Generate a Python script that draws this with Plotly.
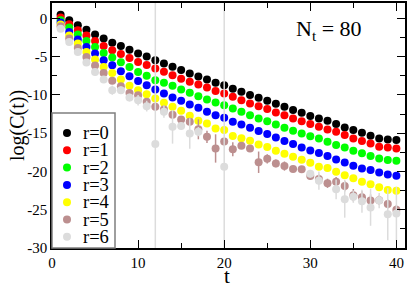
import plotly.graph_objects as go

t = list(range(1, 41))

r0 = [0.45, -0.26, -0.91, -1.5, -2.1, -2.65, -3.2, -3.62, -4.1, -4.6,
      -5.0, -5.47, -5.9, -6.33, -6.75, -7.2, -7.6, -8.0, -8.4, -8.74,
      -9.2, -9.6, -10.0, -10.39, -10.78, -11.17, -11.56, -11.96, -12.35, -12.76,
      -13.1, -13.39, -13.82, -14.25, -14.6, -14.95, -15.34, -15.69, -15.82, -15.9]
r1 = [0.1, -0.78, -1.56, -2.26, -2.96, -3.61, -4.17, -4.65, -5.18, -5.72,
      -6.1, -6.55, -6.98, -7.45, -7.9, -8.3, -8.65, -9.04, -9.5, -9.82,
      -10.26, -10.7, -11.13, -11.47, -11.86, -12.3, -12.65, -13.08, -13.43, -13.82,
      -14.17, -14.51, -14.82, -15.25, -15.69, -16.03, -16.34, -16.77, -16.86, -16.99]
r2 = [-0.26, -1.2, -2.13, -2.96, -3.74, -4.52, -5.12, -5.75, -6.35, -7.0,
      -7.5, -8.08, -8.43, -8.82, -9.3, -9.73, -10.17, -10.6, -11.0, -11.34,
      -11.77, -12.2, -12.65, -13.08, -13.43, -13.86, -14.3, -14.69, -15.04, -15.42,
      -15.69, -16.12, -16.56, -16.86, -17.3, -17.64, -17.99, -18.3, -18.51, -18.6]
r3 = [-0.56, -1.78, -2.78, -3.74, -4.6, -5.48, -6.13, -6.9, -7.56, -8.2,
      -8.74, -9.3, -9.82, -10.35, -10.78, -11.25, -11.69, -12.2, -12.65, -13.0,
      -13.52, -13.86, -14.3, -14.73, -15.1, -15.56, -16.04, -16.43, -16.86, -17.25,
      -17.6, -17.99, -18.43, -18.82, -19.26, -19.6, -19.82, -20.13, -20.39, -20.56]
r4 = [-0.8, -2.26, -3.3, -4.39, -5.38, -6.35, -7.13, -8.0, -8.8, -9.4,
      -9.91, -10.47, -11.04, -11.56, -12.08, -12.73, -13.38, -13.73, -14.38, -14.6,
      -15.38, -15.65, -16.0, -16.47, -16.8, -17.3, -17.7, -18.08, -18.47, -18.86,
      -19.4, -19.55, -20.04, -20.5, -20.9, -21.34, -21.66, -22.08, -22.43, -22.51]
r5 = [-1.04, -2.65, -3.87, -5.05, -6.17, -7.13, -8.17, -8.87, -9.74, -10.04,
      -10.9, -11.56, -11.9, -12.6, -13.2, -13.5, -14.5, -15.47, -17.0, -16.1,
      -17.1, -16.65, -17.0, -18.8, -18.35, -18.95, -19.3, -19.69, -19.7, -20.6,
      -21.0, -21.55, -21.34, -21.9, -23.1, -23.38, -23.8, -23.75, -24.25, -25.0]
r5_err = [0.05, 0.05, 0.05, 0.1, 0.1, 0.15, 0.3, 0.3, 0.3, 0.3,
          0.3, 0.3, 0.3, 0.4, 0.4, 0.4, 1.3, 0.8, 1.85, 0.5,
          0.9, 0.3, 0.4, 1.4, 0.6, 0.5, 0.6, 0.3, 0.3, 0.5,
          0.6, 0.6, 0.6, 0.7, 0.8, 0.8, 0.8, 0.6, 0.6, 0.6]
r6 = [-1.35, -3.09, -4.39, -5.78, -7.0, -8.0, -9.39, -9.4, -10.35, -10.7,
      -11.47, -16.43, -12.2, -14.17, -14.08, -15.04, -14.8, None, None, -19.4,
      None, None, None, None, None, None, None, None, None, -20.3,
      -21.2, None, -22.34, -23.64, -23.3, -23.9, -24.7, -23.8, -25.6, -25.5]
r6_err = [0.05, 0.1, 0.1, 0.15, 0.2, 0.3, 0.6, 0.5, 0.5, 0.7,
          0.7, 22.0, 0.8, 2.2, 0.5, 2.0, 0.6, 0.0, 0.0, 22.0,
          0.0, 0.0, 0.0, 0.0, 0.0, 0.0, 0.0, 0.0, 0.0, 0.5,
          1.2, 0.0, 1.3, 2.4, 0.8, 1.5, 2.4, 1.0, 3.4, 3.5]

names = ["r=0", "r=1", "r=2", "r=3", "r=4", "r=5", "r=6"]
values = [r0, r1, r2, r3, r4, r5, r6]
errors = [None, None, None, None, None, r5_err, r6_err]
colors = ["#000000", "#ff0000", "#00ff00", "#0000ff", "#ffff00", "#bc8f8f", "#dcdcdc"]

x_ticks = [0, 10, 20, 30, 40]
y_ticks = [-30, -25, -20, -15, -10, -5, 0]
y_tick_text = ["-30", "-25", "-20", "-15", "-10", "-5", "0"]

FONT = "Liberation Serif"

# plot-area geometry in figure pixels
W, H = 407, 287
L, R, T, B = 52, 2, 3, 39
PW, PH = W - L - R, H - T - B


def px2paper_x(px):
    return (px - L) / PW


def py2paper_y(py):
    return (H - B - py) / PH


fig = go.Figure()
for name, vals, err, col in zip(names, values, errors, colors):
    kw = {}
    if err is not None:
        kw["error_y"] = dict(type="data", array=err, visible=True, color=col,
                             thickness=1.5, width=0)
    fig.add_trace(go.Scatter(x=t, y=vals, mode="markers", name=name, showlegend=False,
                             marker=dict(color=col, size=8, symbol="circle"),
                             **kw))

axis_common = dict(showline=True, linecolor="black", linewidth=1.6, mirror="allticks",
                   ticks="inside", tickcolor="black", tickwidth=1.2, ticklen=8,
                   showgrid=False, zeroline=False, automargin=False,
                   tickfont=dict(family=FONT, size=15, color="black"))

# hand-drawn legend box (layout only)
shapes = [dict(type="rect", xref="paper", yref="paper",
               x0=px2paper_x(52), x1=px2paper_x(115),
               y0=py2paper_y(248), y1=py2paper_y(113),
               line=dict(color="#7f7f7f", width=1.5), fillcolor="white", layer="above")]
annotations = []
row0, row_gap = 133, 17.3
for i, (name, col) in enumerate(zip(names, colors)):
    yy = py2paper_y(row0 + i * row_gap)
    shapes.append(dict(type="circle", xref="paper", yref="paper",
                       xsizemode="pixel", ysizemode="pixel",
                       xanchor=px2paper_x(67), yanchor=yy,
                       x0=-4, x1=4, y0=-4, y1=4,
                       fillcolor=col, line=dict(color=col, width=0), layer="above"))
    annotations.append(dict(text=name, xref="paper", yref="paper",
                            x=px2paper_x(81), y=yy, xanchor="left", yanchor="middle",
                            showarrow=False, font=dict(family=FONT, size=18.5, color="black")))

annotations.append(dict(text="N<sub>t</sub> = 80", x=px2paper_x(329), y=py2paper_y(30),
                        xref="paper", yref="paper", xanchor="center", yanchor="middle",
                        showarrow=False, font=dict(family=FONT, size=22, color="black")))
# axis titles
annotations.append(dict(text="t", x=px2paper_x(227), y=py2paper_y(276),
                        xref="paper", yref="paper", xanchor="center", yanchor="middle",
                        showarrow=False, font=dict(family=FONT, size=21, color="black")))
annotations.append(dict(text="log(C(t))", x=px2paper_x(17), y=py2paper_y(126),
                        xref="paper", yref="paper", xanchor="center", yanchor="middle",
                        textangle=-90,
                        showarrow=False, font=dict(family=FONT, size=20, color="black")))

fig.update_layout(
    width=W, height=H,
    font=dict(family=FONT, color="black"),
    margin=dict(l=L, r=R, t=T, b=B, autoexpand=False),
    paper_bgcolor="white", plot_bgcolor="white",
    showlegend=False,
    xaxis=dict(range=[0, 41], tickvals=x_ticks,
               minor=dict(dtick=5, ticks="inside", ticklen=5, tickcolor="black", tickwidth=1.2),
               **axis_common),
    yaxis=dict(range=[-30, 2], tickvals=y_ticks, ticktext=y_tick_text,
               minor=dict(dtick=2.5, ticks="inside", ticklen=5, tickcolor="black", tickwidth=1.2),
               **axis_common),
    shapes=shapes,
    annotations=annotations,
)

fig.write_html("out.html", config={"displayModeBar": False},
               post_script="document.body.style.margin='0';")
